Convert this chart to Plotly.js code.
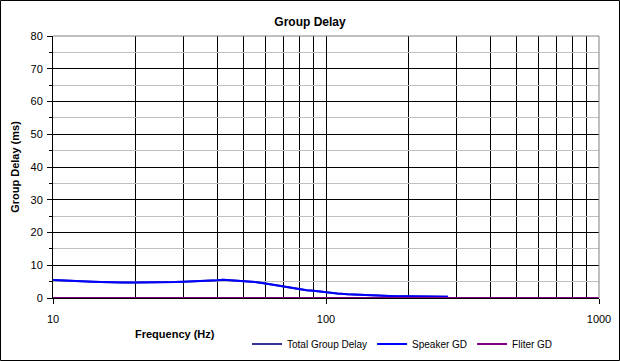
<!DOCTYPE html>
<html><head><meta charset="utf-8">
<script src="https://cdn.plot.ly/plotly-3.0.1.min.js"></script>
<style>html,body{margin:0;padding:0;background:#fff}#chart{width:620px;height:361px}</style>
</head><body><div id="chart"></div>
<script>
var freqHz = [10,11,12,13,14,15,16,18,20,22,25,28,30,33,36,40,42,45,50,55,60,65,70,75,80,85,90,95,100,110,120,130,140,150,160,180,200,220,250,280];
var speakerGD = [5.5,5.3,5.1,5.0,5.0,4.9,4.8,4.7,4.7,4.7,4.7,4.9,5.0,5.1,5.3,5.4,5.6,5.4,5.3,4.9,4.4,3.9,3.4,3.0,2.7,2.4,2.2,1.95,1.75,1.4,1.15,1.0,0.85,0.75,0.65,0.55,0.5,0.45,0.4,0.4];
var filterFreq = [10,20,50,100,200,500,1000];
var filterGD = [0,0,0,0,0,0,0];
var totalGD = speakerGD.map(function(v){return v;});
var xTicks = [10,100,1000];
var yTicks = [0,10,20,30,40,50,60,70,80];

var font = 'Arial, "Liberation Sans", sans-serif';
var traces = [
  {x:freqHz, y:totalGD, name:'Total Group Delay', mode:'lines', line:{color:'#333399', width:2}},
  {x:freqHz, y:speakerGD, name:'Speaker GD', mode:'lines', line:{color:'#0000FF', width:2}},
  {x:filterFreq, y:filterGD, name:'Fliter GD', mode:'lines', line:{color:'#800080', width:2}}
];
var L=53, R=599, T=36, B=298, W=620, H=361;
var pw=R-L, ph=B-T;
var layout = {
  width:W, height:H,
  margin:{l:L, r:W-R, t:T, b:H-B, pad:0, autoexpand:false},
  paper_bgcolor:'#fff', plot_bgcolor:'#fff',
  font:{family:font, size:11, color:'#000'},
  title:{text:'<b>Group Delay</b>', font:{family:font, size:12, color:'#000'}, x:0.5, xref:'container', y:1-22/H, yref:'container', yanchor:'middle'},
  showlegend:true,
  legend:{orientation:'h', x:(247-L)/pw, xanchor:'left', y:(B-344)/ph, yanchor:'middle', font:{family:font, size:10}, bgcolor:'rgba(0,0,0,0)', tracegroupgap:0, itemwidth:30},
  xaxis:{type:'log', range:[1,3], tickvals:xTicks, ticktext:xTicks.map(String), showgrid:true, gridcolor:'#000', gridwidth:1,
    minor:{dtick:'D1', showgrid:true, gridcolor:'#000', gridwidth:1, ticks:''},
    ticks:'outside', ticklen:5, tickcolor:'#000', showline:true, linecolor:'#000', linewidth:1, zeroline:false,
    tickfont:{family:font, size:11}, ticklabelstandoff:6, fixedrange:true, automargin:false},
  yaxis:{range:[0,80], tickvals:yTicks, showgrid:true, gridcolor:'#000', gridwidth:1,
    minor:{dtick:5, showgrid:true, gridcolor:'#c0c0c0', ticks:'outside', ticklen:3, tickcolor:'#000'},
    ticks:'outside', ticklen:5, tickcolor:'#000', showline:true, linecolor:'#000', linewidth:1, zeroline:false,
    tickfont:{family:font, size:11}, ticklabelstandoff:2, fixedrange:true, automargin:false,
    title:{text:'<b>Group Delay (ms)</b>', font:{family:font, size:11}, standoff:8}},
  annotations:[
    {text:'<b>Frequency (Hz)</b>', xref:'paper', yref:'paper', x:(175-L)/pw, y:(B-334)/ph, xanchor:'center', yanchor:'middle', showarrow:false, font:{family:font, size:11}}
  ],
  shapes:[
    {type:'line', xref:'paper', yref:'paper', x0:0, x1:1, y0:1, y1:1, line:{color:'#808080', width:1}, layer:'above'},
    {type:'line', xref:'paper', yref:'paper', x0:1, x1:1, y0:0, y1:1, line:{color:'#808080', width:1}, layer:'above'},
    {type:'rect', xref:'paper', yref:'paper', x0:(0.5-L)/pw, x1:(619.5-L)/pw, y0:(B-360.5)/ph, y1:(B-0.5)/ph, line:{color:'#000', width:1}, layer:'above'}
  ]
};
Plotly.newPlot('chart', traces, layout, {displayModeBar:false, staticPlot:true});
</script></body></html>
